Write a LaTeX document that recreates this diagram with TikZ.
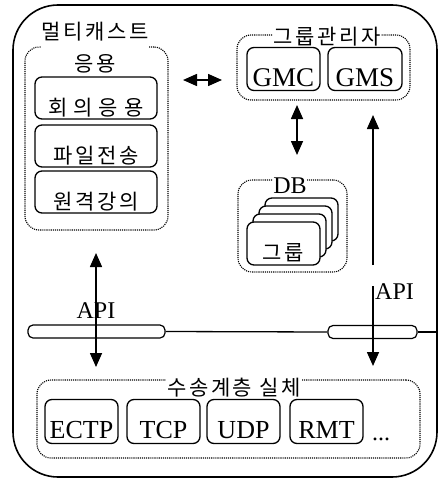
\documentclass[tikz,border=0pt]{standalone}
\usepackage{fontspec}
\setmainfont{Liberation Serif}
\newfontfamily\korfont[LetterSpace=12]{Noto Sans CJK KR}
\usepackage{tikz}
\usetikzlibrary{arrows.meta}
\usetikzlibrary{positioning}

\begin{document}
\begin{tikzpicture}[x=1pt,y=-1pt,
				frame/.style={draw,line width=1.6pt,rounded corners=45pt},
				dotbox/.style={rectangle,draw,densely dotted,line width=1.1pt,rounded corners=14pt,inner sep=0pt},
				pbox/.style={rectangle,rounded corners=7pt,draw,line width=1.3pt,fill=white,minimum width=73pt,minimum height=43pt,inner sep=0pt,text height=34pt,text depth=0pt},
				appnode/.style={pbox,minimum width=122pt,minimum height=42pt,font=\korfont\fontsize{21}{24}\selectfont},
				card/.style={pbox,font=\korfont\fontsize{21}{24}\selectfont},
				latin/.style={font=\fontsize{27}{30}\selectfont},
				ttl/.style={fill=white,inner sep=1pt,font=\korfont\fontsize{21}{32}\selectfont,align=center},
				pipe/.style={rectangle,draw,line width=1.2pt,rounded corners=5pt,minimum height=13pt,inner sep=0pt},
				biarrow/.style={line width=1.6pt,{Triangle[length=14pt,width=12pt]}-{Triangle[length=14pt,width=12pt]}},
				onearrow/.style={line width=1.6pt,-{Triangle[length=14pt,width=12pt]}},
				apilabel/.style={font=\fontsize{24}{26}\selectfont,inner sep=0pt}
				]
				\useasboundingbox (0,0) rectangle (439,479);
				\draw[frame] (13,5) rectangle (437,477);

				\node (appbox) [dotbox,minimum width=143pt,minimum height=183pt] at (96.5,138.5) {};
				\node (apptitle) [ttl] at (95,48) {멀티캐스트\\응용};
				\node (confapp) [appnode] at (96,98) {\addfontfeature{LetterSpace=28}회의응용};
				\node (fileapp) [appnode] at (96,146) {파일전송};
				\node (lectapp) [appnode] at (96,192) {원격강의};

				\node (grpbox) [dotbox,minimum width=173pt,minimum height=65pt] at (323.5,67.5) {};
				\node (grptitle) [ttl] at (327,37) {그룹관리자};
				\node (gmc) [pbox,latin] at (283.5,69) {GMC};
				\node (gms) [pbox,latin,minimum width=74pt] at (365,69) {GMS};

				\node (dbbox) [dotbox,minimum width=109pt,minimum height=92pt] at (292.5,226) {};
				\node (dbtitle) [fill=white,inner sep=1pt,apilabel] at (290,186) {DB};
				\foreach \k in {3,2,1}
					\node (card\k) [card] at (283.5+6*\k,243.5-8*\k) {};
				\node (grpcard) [card] at (283.5,243.5) {그룹};

				\node (leftpipe) [pipe,minimum width=137pt] at (96.5,331.5) {};
				\node (rightpipe) [pipe,minimum width=89pt] at (372.5,332) {};
				\coordinate (pipeend) at (437,332);
				\draw[line width=1.3pt] (leftpipe.east) -- (rightpipe.west);
				\draw[line width=1.3pt] (rightpipe.east) -- (pipeend);

				\node (trbox) [dotbox,minimum width=383pt,minimum height=78pt] at (228.5,419) {};
				\node (trtitle) [ttl] at (234,388) {수송계층 실체};
				\node (ectp) [pbox,font=\fontsize{26}{28}\selectfont,minimum height=44pt] at (81.5,421.5) {ECTP};
				\node (tcp) [pbox,font=\fontsize{26}{28}\selectfont,minimum height=44pt] at (163.5,421.5) {TCP};
				\node (udp) [pbox,font=\fontsize{26}{28}\selectfont,minimum height=44pt] at (243.5,421.5) {UDP};
				\node (rmt) [pbox,font=\fontsize{26}{28}\selectfont,minimum height=44pt] at (326.5,421.5) {RMT};
				\node (more) [apilabel,anchor=base] at (381,440) {...};

				\coordinate (ag1) at (183,80);
				\coordinate (ag2) at (222,80);
				\draw[biarrow] (ag1) -- (ag2);
				\coordinate (gd1) at (297,105);
				\coordinate (gd2) at (297,155);
				\draw[biarrow] (gd1) -- (gd2);
				\coordinate (up1) at (373,265);
				\coordinate (up2) at (373,115);
				\draw[onearrow] (up1) -- (up2);

				\node (apil) [apilabel] at (96,311) {API};
				\coordinate (al1) at (96,253);
				\coordinate (al2) at (96,367);
				\draw[biarrow] (al1) -- (al2);
				\coordinate (ar1) at (373,286);
				\coordinate (ar2) at (373,366);
				\node (apir) [apilabel,anchor=west] at (375,292) {API};
				\draw[onearrow] (ar1) -- (ar2);
\end{tikzpicture}
\end{document}
